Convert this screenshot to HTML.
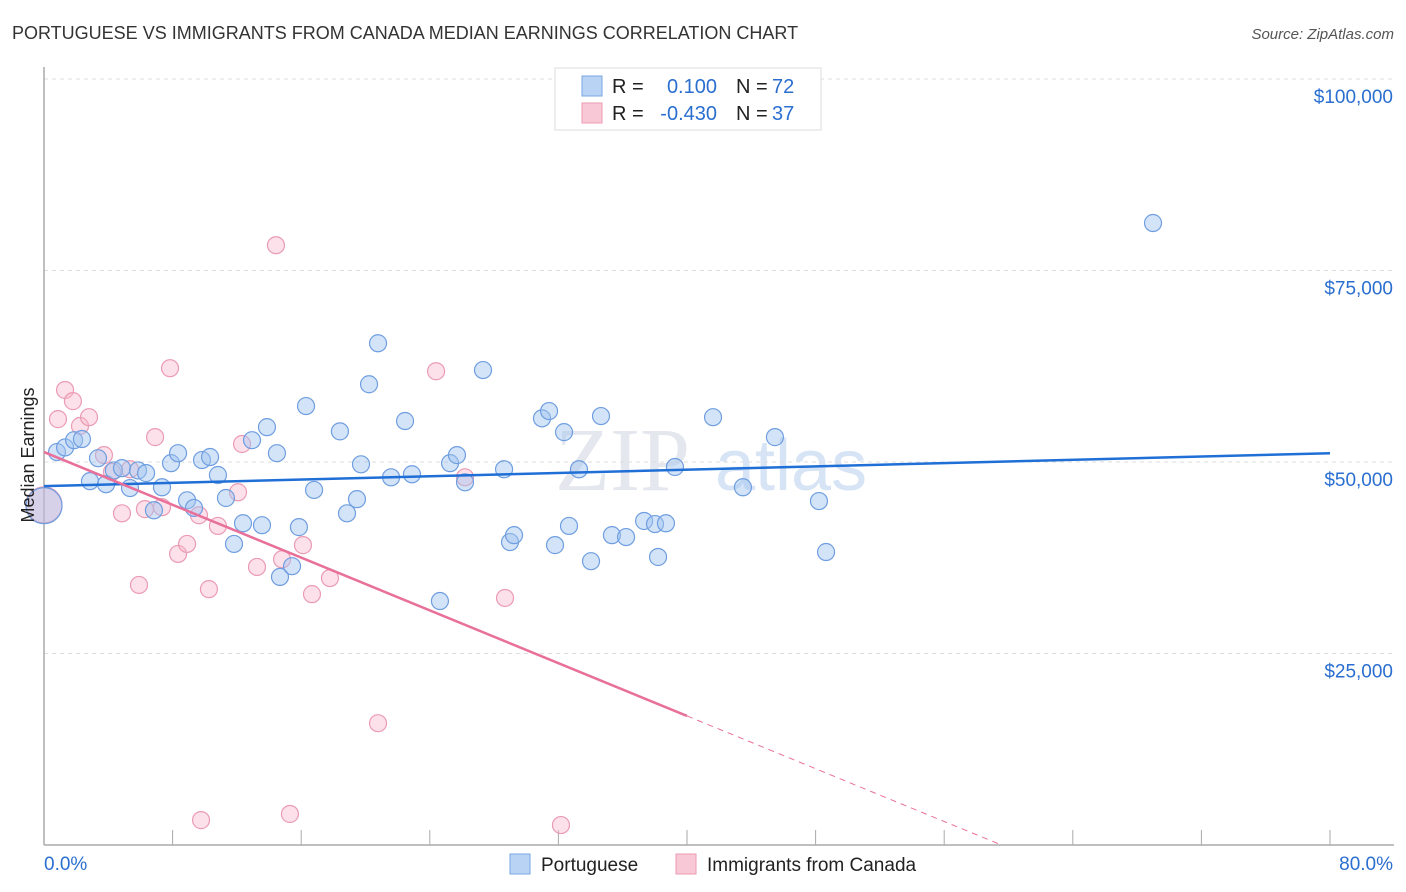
<!DOCTYPE html>
<html><head><meta charset="utf-8"><style>
body{margin:0;background:#fff;font-family:"Liberation Sans",sans-serif;}
svg{display:block}
</style></head><body>
<svg id="chart" width="1406" height="892">
<text x="12" y="39" font-size="18" fill="#333">PORTUGUESE VS IMMIGRANTS FROM CANADA MEDIAN EARNINGS CORRELATION CHART</text>
<text x="1394" y="39" font-size="15" fill="#555" font-style="italic" text-anchor="end">Source: ZipAtlas.com</text>
<text x="690" y="490" font-size="90" fill="#e4e8ee" text-anchor="end" font-family="Liberation Serif">ZIP</text>
<text x="715" y="490" font-size="72" fill="#d6e4f5">atlas</text>
<g id="grid"></g><g id="axes"></g><g id="marks"></g>
<text x="34" y="455" font-size="18" fill="#222" text-anchor="middle" transform="rotate(-90 34 455)">Median Earnings</text>
<g>
<rect x="555" y="68" width="266" height="62" fill="#fff" stroke="#ddd"/>
<rect x="582" y="76" width="20" height="20" fill="#b9d3f5" stroke="#7aa6e3"/>
<rect x="582" y="103" width="20" height="20" fill="#f9c8d6" stroke="#ec9ab2"/>
<text x="612" y="93" font-size="20" fill="#222">R = </text><text x="717" y="93" font-size="20" fill="#2a6fd0" text-anchor="end">0.100</text>
<text x="736" y="93" font-size="20" fill="#222">N = </text><text x="772" y="93" font-size="20" fill="#2a6fd0">72</text>
<text x="612" y="120" font-size="20" fill="#222">R = </text><text x="717" y="120" font-size="20" fill="#2a6fd0" text-anchor="end">-0.430</text>
<text x="736" y="120" font-size="20" fill="#222">N = </text><text x="772" y="120" font-size="20" fill="#2a6fd0">37</text>
</g>
<g>
<rect x="510" y="854" width="20" height="20" fill="#b9d3f5" stroke="#7aa6e3"/>
<text x="541" y="871" font-size="19" fill="#222">Portuguese</text>
<rect x="676" y="854" width="20" height="20" fill="#f9c8d6" stroke="#ec9ab2"/>
<text x="707" y="871" font-size="19" fill="#222">Immigrants from Canada</text>
</g>
</svg>
<script>
const blueX=[0.81,1.31,1.87,2.36,2.86,3.36,3.86,4.35,4.85,5.35,5.85,6.35,6.84,7.34,7.90,8.34,8.90,9.33,9.83,10.33,10.82,11.32,11.82,12.38,12.94,13.56,13.87,14.49,14.68,15.43,15.86,16.30,16.80,18.41,18.85,19.47,19.72,20.22,20.78,21.59,22.46,22.89,24.63,25.26,25.69,26.19,27.31,28.62,28.99,29.24,30.98,31.42,31.79,32.35,32.66,33.28,34.03,34.65,35.33,36.21,37.33,38.01,38.20,38.69,39.25,41.62,43.48,45.47,48.21,48.65,68.99];
const blueY=[51300,51900,52850,53000,47500,50500,47100,48900,49200,46600,48900,48550,43700,46700,49850,51150,45000,44000,50250,50650,48300,45300,39300,42000,52850,41750,54550,51150,35000,36400,41500,57300,46350,54000,43300,45150,49700,60150,65500,48000,55350,48400,31850,49850,50900,47350,62000,49050,39550,40450,55700,56650,39150,53900,41650,49050,37050,56000,40450,40200,42300,41900,37600,42000,49350,55850,46700,53250,44900,38250,81200];
const pinkX=[0.87,1.31,1.80,2.24,2.80,3.73,4.23,4.85,5.35,5.91,6.28,6.91,7.34,7.84,8.34,8.90,9.64,9.77,10.26,10.82,12.07,12.32,13.25,14.43,14.81,15.30,16.11,16.67,17.79,20.78,24.39,26.19,28.68,32.16];
const pinkY=[55600,59400,57950,54700,55850,50900,48700,43300,49050,33950,43850,53250,44100,62250,38000,39300,43050,3250,33400,41650,46050,52350,36300,78300,37300,4050,39150,32750,34850,15900,61850,48000,32250,2600];
const bigX=[0,0];
const bigY=[44400,44300];
const blueTrend=[46850,51150];
const pinkTrend=[51300,16850];
const yTicks=[25000,50000,75000,100000];
const yTickLabels=["$25,000","$50,000","$75,000","$100,000"];
const xMax=80;
const X=v=>44+v*(1286/80);
const Y=v=>845-v*(766/100000);
const NS="http://www.w3.org/2000/svg";
function mk(parent,tag,attrs){const e=document.createElementNS(NS,tag);for(const k in attrs)e.setAttribute(k,attrs[k]);document.getElementById(parent).appendChild(e);return e;}
yTicks.forEach((t,i)=>{
 const g=mk('grid','line',{x1:44,x2:1394,y1:Y(t),y2:Y(t),stroke:'#ddd','stroke-dasharray':'4 4'});
 
 
 const tx=mk('axes','text',{x:1393,y:Y(t)+24,'font-size':19,fill:'#2a6fd0','text-anchor':'end'});
 tx.textContent=yTickLabels[i];
 
 
});
const topGrid=mk('grid','line',{x1:44,x2:1394,y1:79,y2:79,stroke:'#ddd','stroke-dasharray':'4 4'});


const ya=mk('axes','line',{x1:44,x2:44,y1:67,y2:845,stroke:'#aaa','stroke-width':1.5});


const xa=mk('axes','line',{x1:44,x2:1394,y1:845,y2:845,stroke:'#aaa','stroke-width':1.5});


for(let i=0;i<=10;i++){const t=mk('axes','line',{x1:X(i*8),x2:X(i*8),y1:830,y2:845,stroke:'#aaa'});
 
 }
const l0=mk('axes','text',{x:44,y:870,'font-size':19,fill:'#2a6fd0'});l0.textContent='0.0%';


const l1=mk('axes','text',{x:1393,y:870,'font-size':19,fill:'#2a6fd0','text-anchor':'end'});l1.textContent=xMax.toFixed(1)+'%';


bigX.forEach((x,i)=>{const c=mk('marks','circle',{cx:X(x),cy:Y(bigY[i]),r:18,fill:i?'rgba(160,196,240,0.4)':'rgba(245,170,195,0.45)',stroke:i?'#6f9ee0':'#ec9ab2','stroke-width':1.2});
 
 });
pinkX.forEach((x,i)=>{const c=mk('marks','circle',{cx:X(x),cy:Y(pinkY[i]),r:8.5,fill:'rgba(247,180,202,0.4)',stroke:'#eb9bb3','stroke-width':1.2});
 
 });
blueX.forEach((x,i)=>{const c=mk('marks','circle',{cx:X(x),cy:Y(blueY[i]),r:8.5,fill:'rgba(160,196,240,0.45)',stroke:'#6f9ee0','stroke-width':1.2});
 
 });
const bl=mk('marks','line',{x1:X(0),y1:Y(blueTrend[0]),x2:X(80),y2:Y(blueTrend[1]),stroke:'#1f6fd6','stroke-width':2.5});


const slope=(pinkTrend[1]-pinkTrend[0])/40;
const pl=mk('marks','line',{x1:X(0),y1:Y(pinkTrend[0]),x2:X(40),y2:Y(pinkTrend[1]),stroke:'#e8709a','stroke-width':2.5});


const xz=-pinkTrend[0]/slope;
const pd=mk('marks','line',{x1:X(40),y1:Y(pinkTrend[1]),x2:X(xz),y2:Y(0),stroke:'#e8709a','stroke-width':1,'stroke-dasharray':'6 5'});


</script>
</body></html>
